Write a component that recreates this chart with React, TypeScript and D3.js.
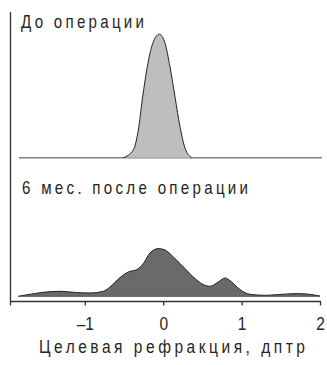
import React from "react";
import * as d3 from "d3";

const xTicks = [-1, 0, 1, 2];
const tickLabels = ["–1", "0", "1", "2"];
const titleBefore = "До операции";
const titleAfter = "6 мес. после операции";
const axisTitle = "Целевая рефракция, дптр";

const beforeX = [-0.515, -0.388, -0.324, -0.268, -0.217, -0.153, -0.056, 0.017, 0.08, 0.144, 0.208, 0.272, 0.357];
const beforeD = [0, 0.137, 0.49, 1.08, 1.55, 1.97, 2.19, 2.03, 1.61, 1.08, 0.55, 0.17, 0];

const afterX = [-1.855, -1.705, -1.536, -1.323, -1.11, -0.94, -0.77, -0.685, -0.557, -0.452, -0.344, -0.26, -0.175, -0.069, 0.017, 0.144, 0.272, 0.399, 0.505, 0.591, 0.696, 0.782, 0.867, 0.973, 1.101, 1.292, 1.462, 1.696, 1.888, 1.994];
const afterD = [0, 0.035, 0.071, 0.089, 0.066, 0.059, 0.089, 0.165, 0.332, 0.431, 0.473, 0.58, 0.768, 0.846, 0.82, 0.668, 0.491, 0.314, 0.207, 0.177, 0.254, 0.324, 0.254, 0.119, 0.035, 0.018, 0.03, 0.048, 0.03, 0.005];

const FONT = "'Liberation Sans', Arial, sans-serif";
const SX = 0.84;

function Label(props: { x: number; y: number; w?: number; size: number; anchor?: string; children: string }) {
  const { x, y, w, size, anchor, children } = props;
  return (
    <text
      transform={`translate(${x},${y}) scale(${SX},1)`}
      textAnchor={anchor || "start"}
      fontFamily={FONT}
      fontSize={size}
      fill="#262626"
      {...(w ? { textLength: w / SX, lengthAdjust: "spacing" } : {})}
    >
      {children}
    </text>
  );
}

export default function App() {
  const x = d3.scaleLinear().domain([-1, 2]).range([85.3, 320.5]);
  const yTop = d3.scaleLinear().domain([0, 2.2]).range([157.7, 33.6]);
  const yBot = d3.scaleLinear().domain([0, 2.2]).range([296.3, 172.2]);

  const before = beforeX.map((v, i) => [v, beforeD[i]] as [number, number]);
  const after = afterX.map((v, i) => [v, afterD[i]] as [number, number]);

  const areaTop = d3.area<[number, number]>()
    .x(d => x(d[0])).y0(yTop(0)).y1(d => yTop(d[1])).curve(d3.curveMonotoneX);
  const lineTop = d3.line<[number, number]>()
    .x(d => x(d[0])).y(d => yTop(d[1])).curve(d3.curveMonotoneX);
  const areaBot = d3.area<[number, number]>()
    .x(d => x(d[0])).y0(yBot(0)).y1(d => yBot(d[1])).curve(d3.curveMonotoneX);
  const lineBot = d3.line<[number, number]>()
    .x(d => x(d[0])).y(d => yBot(d[1])).curve(d3.curveMonotoneX);

  const axisY = 301.5;
  const xLeft = 10.5;
  const xRight = 321;

  return (
    <svg width={327} height={365} style={{ position: "absolute", left: 0, top: 0 }}>
      <rect x={0} y={0} width={327} height={365} fill="#fff" />
      <line x1={xLeft} x2={xLeft} y1={12} y2={axisY + 4} stroke="#333" strokeWidth={1.3} />
      <line x1={xLeft} x2={xRight} y1={axisY} y2={axisY} stroke="#333" strokeWidth={1.3} />
      {xTicks.map((t, i) => (
        <g key={t}>
          <line x1={x(t)} x2={x(t)} y1={axisY} y2={axisY + 4} stroke="#333" strokeWidth={1.3} />
          <Label x={x(t)} y={330} size={18.5} anchor="middle">{tickLabels[i]}</Label>
        </g>
      ))}
      <line x1={19} x2={322} y1={yTop(0)} y2={yTop(0)} stroke="#808080" strokeWidth={1.4} />
      <path d={areaTop(before) || ""} fill="#bebec1" />
      <path d={lineTop(before) || ""} fill="none" stroke="#222" strokeWidth={1} />
      <Label x={21} y={28} w={123} size={18}>{titleBefore}</Label>
      <path d={areaBot(after) || ""} fill="#6a6a6d" />
      <path d={lineBot(after) || ""} fill="none" stroke="#222" strokeWidth={1} />
      <line x1={x(afterX[0])} x2={x(afterX[afterX.length - 1])} y1={yBot(0)} y2={yBot(0)} stroke="#555" strokeWidth={1} />
      <Label x={22} y={194} w={226} size={18}>{titleAfter}</Label>
      <Label x={39} y={353} w={266} size={18.5}>{axisTitle}</Label>
    </svg>
  );
}
